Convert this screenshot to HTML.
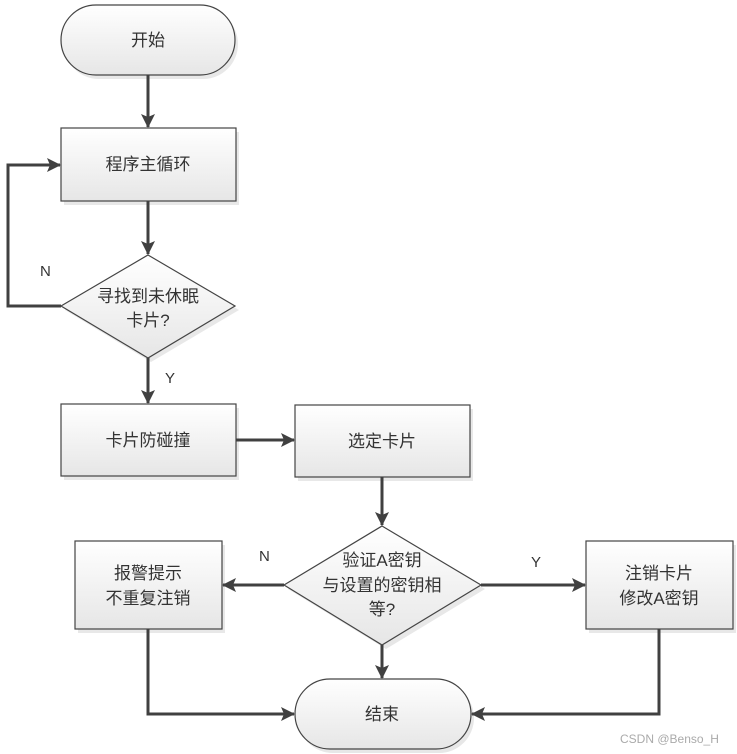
<!DOCTYPE html>
<html><head><meta charset="utf-8"><style>
html,body{margin:0;padding:0;background:#fff;}
svg{display:block;}
text{font-family:"Liberation Sans","Noto Sans CJK SC",sans-serif;fill:#333;}
</style></head><body>
<svg width="737" height="754" viewBox="0 0 737 754" xmlns="http://www.w3.org/2000/svg">
<defs>
<linearGradient id="g" x1="0" y1="0" x2="0" y2="1"><stop offset="0" stop-color="#ffffff"/><stop offset="1" stop-color="#e6e6e6"/></linearGradient>
<marker id="a" markerWidth="10" markerHeight="10" refX="9" refY="5" orient="auto" markerUnits="userSpaceOnUse"><path d="M0,0 L10,5 L0,10 Z" fill="#404040"/></marker>
<marker id="b" viewBox="0 0 14 14" markerWidth="14" markerHeight="14" refX="13" refY="7" orient="auto" markerUnits="userSpaceOnUse"><path d="M0,0 L14,7 L0,14 L3,7 Z" fill="#404040"/></marker>
</defs>
<g fill="#d8d8d8" opacity="0.6">
<rect x="64" y="9" width="174" height="70" rx="35"/>
<rect x="64" y="132" width="175" height="73"/>
<polygon points="151,259 239,310 151,362 65,310"/>
<rect x="64" y="408" width="175" height="72"/>
<rect x="298" y="409" width="175" height="72"/>
<polygon points="386,530 485,589 386,649 288,589"/>
<rect x="78" y="545" width="147" height="88"/>
<rect x="589" y="545" width="147" height="88"/>
<rect x="298" y="683" width="176" height="70" rx="35"/>
</g>
<g fill="url(#g)" stroke="#444" stroke-width="1.2">
<rect x="61" y="5" width="174" height="70" rx="35"/>
<rect x="61" y="128" width="175" height="73"/>
<polygon points="148,255 235,306 148,358 61,306"/>
<rect x="61" y="404" width="175" height="72"/>
<rect x="295" y="405" width="175" height="72"/>
<polygon points="382,526 481,585 382,645 284,585"/>
<rect x="75" y="541" width="147" height="88"/>
<rect x="586" y="541" width="147" height="88"/>
<rect x="295" y="679" width="176" height="70" rx="35"/>
</g>
<g stroke="#404040" stroke-width="3" fill="none" marker-end="url(#b)">
<line x1="148" y1="75" x2="148" y2="127"/>
<line x1="148" y1="201" x2="148" y2="254"/>
<polyline points="61,306 8,306 8,165 60,165"/>
<line x1="148" y1="358" x2="148" y2="403"/>
<line x1="236" y1="440" x2="294" y2="440"/>
<line x1="382" y1="477" x2="382" y2="525"/>
<line x1="284" y1="585" x2="223" y2="585"/>
<line x1="481" y1="585" x2="585" y2="585"/>
<line x1="382" y1="645" x2="382" y2="678"/>
<polyline points="148,629 148,714 294,714"/>
<polyline points="659,629 659,714 472,714"/>
</g>
<g font-size="17" text-anchor="middle">
<text x="148" y="46">开始</text>
<text x="148" y="170">程序主循环</text>
<text x="148" y="302">寻找到未休眠</text>
<text x="148" y="326">卡片?</text>
<text x="148" y="446">卡片防碰撞</text>
<text x="382" y="447">选定卡片</text>
<text x="382" y="566">验证A密钥</text>
<text x="382" y="591">与设置的密钥相</text>
<text x="382" y="615">等?</text>
<text x="148" y="579">报警提示</text>
<text x="148" y="604">不重复注销</text>
<text x="659" y="579">注销卡片</text>
<text x="659" y="604">修改A密钥</text>
<text x="382" y="720">结束</text>
</g>
<g font-size="15">
<text x="40" y="276">N</text>
<text x="165" y="383">Y</text>
<text x="259" y="561">N</text>
<text x="531" y="567">Y</text>
</g>
<text x="620" y="743" font-size="12" fill="#aaa" style="fill:#aaa">CSDN @Benso_H</text>
</svg>
</body></html>
